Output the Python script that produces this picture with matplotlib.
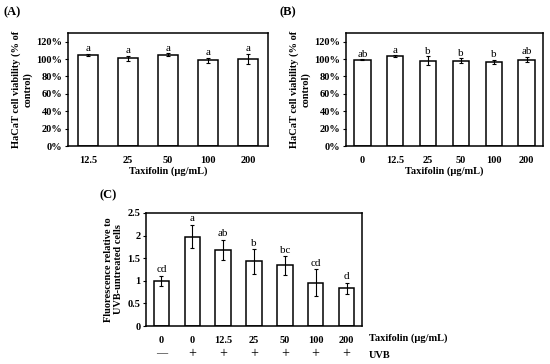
import matplotlib.pyplot as plt
import matplotlib.transforms as mtransforms
from matplotlib.ticker import PercentFormatter

plt.rcParams['font.family'] = ['Liberation Serif', 'DejaVu Serif']

# (A) viability, taxifolin only
a_conc = ["12.5", "25", "50", "100", "200"]
a_mean = [1.05, 1.01, 1.05, 0.985, 1.00]
a_err = [0.01, 0.03, 0.02, 0.03, 0.06]
a_sig = ["a", "a", "a", "a", "a"]

# (B) viability incl. 0
b_conc = ["0", "12.5", "25", "50", "100", "200"]
b_mean = [0.995, 1.035, 0.98, 0.98, 0.97, 0.995]
b_err = [0.005, 0.01, 0.05, 0.03, 0.025, 0.03]
b_sig = ["ab", "a", "b", "b", "b", "ab"]

# (C) fluorescence after UVB
c_conc = ["0", "0", "12.5", "25", "50", "100", "200"]
c_uvb = ["—", "+", "+", "+", "+", "+", "+"]
c_mean = [1.00, 1.98, 1.69, 1.43, 1.34, 0.96, 0.83]
c_err = [0.11, 0.26, 0.22, 0.27, 0.21, 0.30, 0.13]
c_sig = ["cd", "a", "ab", "b", "bc", "cd", "d"]

W, H = 550, 364
fig = plt.figure(figsize=(5.5, 3.64), dpi=100)

TICK = 7.5
LAB = 7.5
SIG = 8


def box(l, t, r, b):
    return [l / W, 1 - b / H, (r - l) / W, (b - t) / H]


def bars(ax, labels, vals, errs, sig, top, off):
    x = range(len(vals))
    ax.bar(x, vals, width=0.5, color="white", edgecolor="black", linewidth=1.1)
    ax.errorbar(x, vals, yerr=errs, fmt="none", ecolor="black", elinewidth=0.8, capsize=1.5, capthick=0.8)
    for i, s in enumerate(sig):
        ax.text(i, vals[i] + errs[i] + off, s, ha="center", va="bottom", fontsize=SIG)
    ax.set_xlim(-0.5, len(vals) - 0.5)
    ax.set_ylim(0, top)
    ax.set_xticks(list(x))
    ax.set_xticklabels(labels, fontweight="bold", fontsize=TICK)
    ax.tick_params(axis="x", length=0, pad=7)
    ax.tick_params(axis="y", length=2, width=0.8, labelsize=TICK, pad=2)
    for sp in ax.spines.values():
        sp.set_linewidth(1.1)


def bold_y(ax):
    for lab in ax.get_yticklabels():
        lab.set_fontweight("bold")


# panel A
axA = fig.add_axes(box(68, 33, 268, 146))
bars(axA, a_conc, a_mean, a_err, a_sig, 1.3, 0.005)
axA.set_yticks([0, 0.2, 0.4, 0.6, 0.8, 1.0, 1.2])
axA.yaxis.set_major_formatter(PercentFormatter(1.0, decimals=0))
bold_y(axA)
axA.set_xlabel("Taxifolin (μg/mL)", fontweight="bold", fontsize=LAB, labelpad=1)
axA.set_ylabel("HaCaT cell viability (% of\ncontrol)", fontweight="bold", fontsize=LAB, labelpad=3)
fig.text(4 / W, 1 - 12 / H, "(A)", fontweight="bold", fontsize=9, va="center")

# panel B
axB = fig.add_axes(box(346, 33, 543, 146))
bars(axB, b_conc, b_mean, b_err, b_sig, 1.3, 0.005)
axB.set_yticks([0, 0.2, 0.4, 0.6, 0.8, 1.0, 1.2])
axB.yaxis.set_major_formatter(PercentFormatter(1.0, decimals=0))
bold_y(axB)
axB.set_xlabel("Taxifolin (μg/mL)", fontweight="bold", fontsize=LAB, labelpad=1)
axB.set_ylabel("HaCaT cell viability (% of\ncontrol)", fontweight="bold", fontsize=LAB, labelpad=3)
fig.text(279 / W, 1 - 12 / H, "(B)", fontweight="bold", fontsize=9, va="center")

# panel C
axC = fig.add_axes(box(146, 213, 362, 326))
bars(axC, c_conc, c_mean, c_err, c_sig, 2.5, 0.03)
axC.set_yticks([0, 0.5, 1, 1.5, 2, 2.5])
axC.set_yticklabels(["0", "0.5", "1", "1.5", "2", "2.5"], fontweight="bold")
axC.set_ylabel("Fluorescence relative to\nUVB-untreated cells", fontweight="bold", fontsize=LAB, labelpad=3)
row = mtransforms.blended_transform_factory(axC.transData, fig.transFigure)
for i, s in enumerate(c_uvb):
    axC.text(i, 1 - 354 / H, s, ha="center", va="center", fontsize=10 if s == "+" else 8, transform=row)
fig.text(369 / W, 1 - 338 / H, "Taxifolin (μg/mL)", fontweight="bold", fontsize=LAB, va="center")
fig.text(369 / W, 1 - 355 / H, "UVB", fontweight="bold", fontsize=LAB, va="center")
fig.text(99 / W, 1 - 195 / H, "(C)", fontweight="bold", fontsize=9, va="center")

fig.savefig("out.png", dpi=100)
